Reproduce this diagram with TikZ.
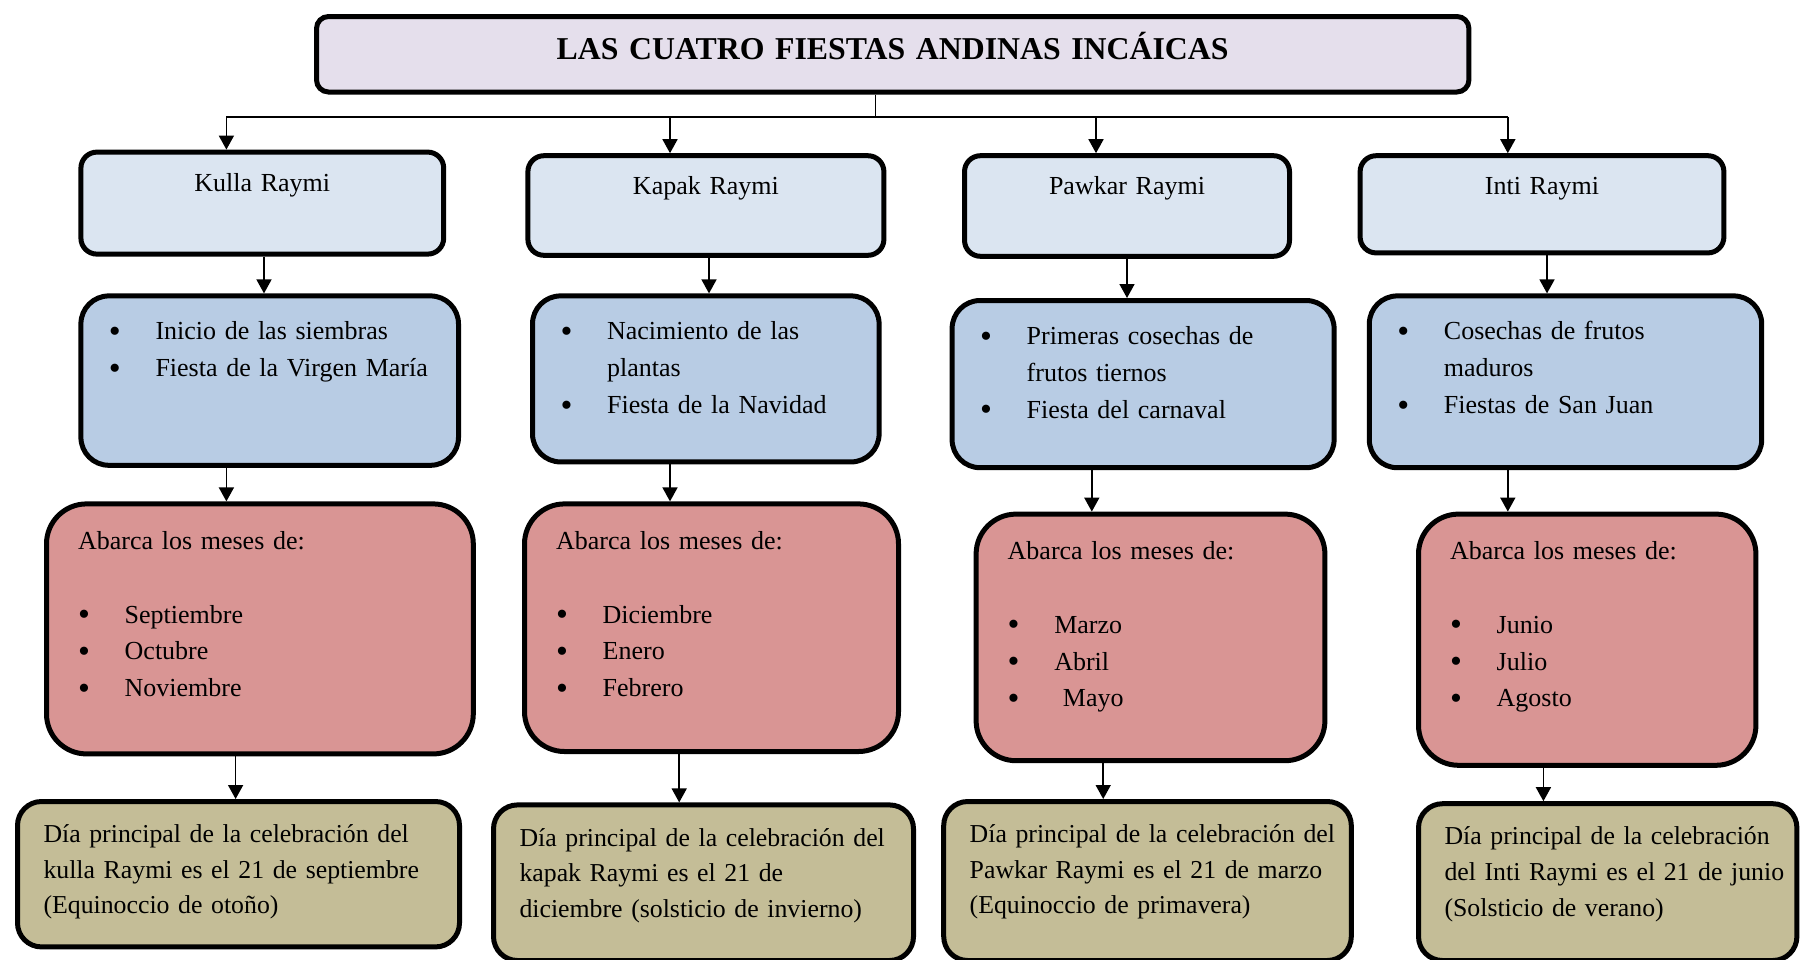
\documentclass[tikz,border=0pt]{standalone}
\usepackage{fontspec}
\setmainfont{Liberation Serif}
\usetikzlibrary{arrows.meta}

\definecolor{headfill}{HTML}{E5DFEC}
\definecolor{raymifill}{HTML}{DBE5F1}
\definecolor{eventfill}{HTML}{B8CCE4}
\definecolor{monthfill}{HTML}{D99594}
\definecolor{dayfill}{HTML}{C4BD97}

\newcommand{\itm}{\makebox[23.3pt][l]{\raisebox{-1.3pt}{\fontsize{17}{17}\selectfont\textbullet}}}
\newcommand{\cnt}{\hspace*{23.3pt}}
\newcommand{\rows}[1]{\begin{tabular}[t]{@{}l@{}}#1\end{tabular}}

\begin{document}
\begin{tikzpicture}[x=1pt, y=-1pt,
  card/.style={draw, line width=2.5pt, anchor=north west, inner ysep=0pt},
  headbox/.style={card, fill=headfill, rounded corners=6pt, align=center, inner xsep=0pt,
    font=\fontsize{15.9}{19}\selectfont\bfseries, text height=21.6pt, text depth=16.15pt},
  raymibox/.style={card, fill=raymifill, rounded corners=8pt, align=center, inner xsep=2pt,
    text height=19.5pt, font=\fontsize{13}{18}\selectfont},
  eventbox/.style={card, fill=eventfill, rounded corners=14pt, align=left, inner xsep=14pt,
    text height=22pt, font=\fontsize{13}{18.4}\selectfont},
  monthbox/.style={card, fill=monthfill, rounded corners=20pt, align=left, inner xsep=15.8pt,
    text height=22.8pt, font=\fontsize{13}{18.4}\selectfont},
  daybox/.style={card, fill=dayfill, rounded corners=12pt, align=left, inner xsep=13pt,
    text height=20.6pt, font=\fontsize{12.9}{17.8}\selectfont},
  wire/.style={line width=0.8pt},
  link/.style={wire, -{Triangle[width=7.5pt, length=7pt]}}]

  \useasboundingbox (0,0) rectangle (901,479.5);

  \node[headbox, text width=576.2pt] (head) at (157,7) {LAS CUATRO FIESTAS ANDINAS INCÁICAS};

  \node[raymibox, text width=177.4pt, text depth=31.5pt] (ku1) at (39.2,74.8) {Kulla Raymi};
  \node[raymibox, text width=174pt, text depth=30.3pt] (ka1) at (262.7,76.6) {Kapak Raymi};
  \node[raymibox, text width=158.5pt, text depth=30.8pt] (pa1) at (481,76.6) {Pawkar Raymi};
  \node[raymibox, text width=177.9pt, text depth=29.1pt] (in1) at (678.8,76.6) {Inti Raymi};

  \node[eventbox, text width=160.8pt, text depth=62.7pt] (ku2) at (39.2,146.7)
    {\rows{\itm Inicio de las siembras\\ \itm Fiesta de la Virgen María}};
  \node[eventbox, text width=145.3pt, text depth=61pt] (ka2) at (265,146.7)
    {\rows{\itm Nacimiento de las\\ \cnt plantas\\ \itm Fiesta de la Navidad}};
  \node[eventbox, text width=163pt, text depth=61.6pt] (pa2) at (474.8,149)
    {\rows{\itm Primeras cosechas de\\ \cnt frutos tiernos\\ \itm Fiesta del carnaval}};
  \node[eventbox, text width=168.2pt, text depth=63.9pt] (in2) at (683.4,146.7)
    {\rows{\itm Cosechas de frutos\\ \cnt maduros\\ \itm Fiestas de San Juan}};

  \node[monthbox, text width=181.8pt, text depth=102.2pt] (ku3) at (22,250.7)
    {\rows{Abarca los meses de:\\ \\ \itm Septiembre\\ \itm Octubre\\ \itm Noviembre}};
  \node[monthbox, text width=155.4pt, text depth=101pt] (ka3) at (261,250.7)
    {\rows{Abarca los meses de:\\ \\ \itm Diciembre\\ \itm Enero\\ \itm Febrero}};
  \node[monthbox, text width=142.8pt, text depth=100.5pt] (pa3) at (486.8,255.8)
    {\rows{Abarca los meses de:\\ \\ \itm Marzo\\ \itm Abril\\ \itm\ Mayo}};
  \node[monthbox, text width=137.1pt, text depth=102.8pt] (in3) at (708,255.8)
    {\rows{Abarca los meses de:\\ \\ \itm Junio\\ \itm Julio\\ \itm Agosto}};

  \node[daybox, text width=195pt, text depth=52.1pt] (ku4) at (7.5,399.5)
    {\rows{Día principal de la celebración del\\ kulla Raymi es el 21 de septiembre\\ (Equinoccio de otoño)}};
  \node[daybox, text width=184pt, text depth=57.2pt] (ka4) at (245.5,401.2)
    {\rows{Día principal de la celebración del\\ kapak Raymi es el 21 de\\ diciembre (solsticio de invierno)}};
  \node[daybox, text width=177.8pt, text depth=58.9pt] (pa4) at (470.6,399.5)
    {\rows{Día principal de la celebración del\\ Pawkar Raymi es el 21 de marzo\\ (Equinoccio de primavera)}};
  \node[daybox, text width=163.2pt, text depth=57.8pt] (in4) at (708,400.6)
    {\rows{Día principal de la celebración\\ del Inti Raymi es el 21 de junio\\ (Solsticio de verano)}};

  \coordinate (hub) at (437.8,58.4);
  \coordinate (barL) at (113.2,58.4);
  \coordinate (barR) at (753.9,58.4);
  \draw[wire] (head.south -| hub) -- (hub);
  \draw[wire] (barL) -- (barR);

  \foreach \x/\n in {113.2/ku1, 335/ka1, 548/pa1, 753.9/in1}
    \draw[link] (hub -| \x,0) -- (\n.north -| \x,0);

  \foreach \x/\a/\b in {132/ku1/ku2, 354.5/ka1/ka2, 563.5/pa1/pa2, 773.5/in1/in2,
      113.2/ku2/ku3, 335/ka2/ka3, 545.9/pa2/pa3, 753.9/in2/in3,
      117.8/ku3/ku4, 339.6/ka3/ka4, 551.6/pa3/pa4, 771.7/in3/in4}
    \draw[link] (\a.south -| \x,0) -- (\b.north -| \x,0);
\end{tikzpicture}
\end{document}
